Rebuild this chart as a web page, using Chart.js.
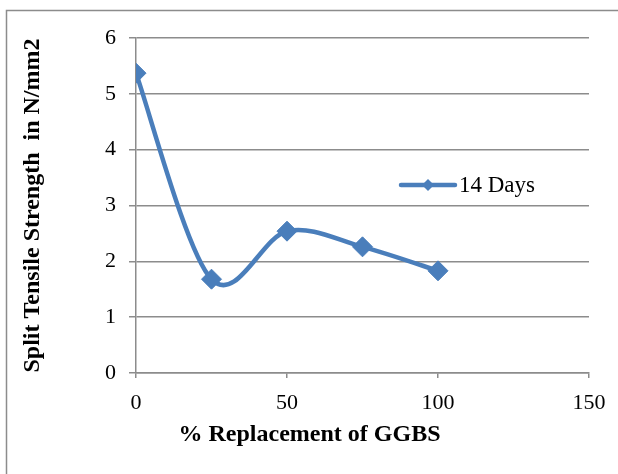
<!DOCTYPE html>
<html>
<head>
<meta charset="utf-8">
<script src="https://cdn.jsdelivr.net/npm/chart.js@4/dist/chart.umd.min.js"></script>
<style>
  html, body { margin: 0; padding: 0; background: #fff; }
  #wrap { width: 618px; height: 474px; position: relative; }
</style>
</head>
<body>
<div id="wrap"><canvas id="grafico" width="618" height="474"></canvas></div>
<script>
// Split tensile strength vs % GGBS replacement (14 days)
const replacement = [0, 25, 50, 75, 100];
const strength14  = [5.37, 1.68, 2.54, 2.26, 1.83];
const xTicks      = [0, 50, 100, 150];
const yTicks      = [0, 1, 2, 3, 4, 5, 6];

const LINE_COLOR = '#4A7EBB';
const GRID_COLOR = '#8c8c8c';
const TEXT_COLOR = '#000';
const SERIF      = '"Liberation Serif", "Times New Roman", serif';

// outer frame (only left and top edges visible in the reference)
const framePlugin = {
    id: 'frame',
    beforeDraw(chart) {
        const c = chart.ctx;
        c.save();
        c.strokeStyle = GRID_COLOR;
        c.lineWidth = 1.5;
        c.beginPath();
        c.moveTo(6.5, chart.height);
        c.lineTo(6.5, 10.5);
        c.lineTo(chart.width, 10.5);
        c.stroke();
        c.restore();
    }
};

// Excel-style smoothing: Catmull-Rom control points (neighbour difference / 6)
const excelSmooth = {
    id: 'excelSmooth',
    beforeDatasetDraw(chart, args) {
        const meta = args.meta;
        const line = meta.dataset;
        if (!line) return;
        line.updateControlPoints(chart.chartArea, 'x');
        const pts = meta.data;
        for (let i = 0; i < pts.length; i++) {
            const p = pts[i];
            const prev = pts[i - 1] || p;
            const next = pts[i + 1] || p;
            const dx = (next.x - prev.x) / 6;
            const dy = (next.y - prev.y) / 6;
            p.cp1x = p.x - dx; p.cp1y = p.y - dy;
            p.cp2x = p.x + dx; p.cp2y = p.y + dy;
        }
        line._pointsUpdated = true;
        line._path = undefined;
    }
};

// legend with line + diamond, inside the plot area
const legendPlugin = {
    id: 'lineLegend',
    afterDraw(chart) {
        const ds = chart.data.datasets[0];
        const c = chart.ctx;
        const x0 = 401, x1 = 455, y = 185;
        const xm = (x0 + x1) / 2;
        c.save();
        c.strokeStyle = ds.borderColor;
        c.lineWidth = ds.borderWidth;
        c.lineCap = 'round';
        c.beginPath();
        c.moveTo(x0, y);
        c.lineTo(x1, y);
        c.stroke();
        c.fillStyle = ds.pointBackgroundColor;
        c.beginPath();
        c.moveTo(xm, y - 6);
        c.lineTo(xm + 6, y);
        c.lineTo(xm, y + 6);
        c.lineTo(xm - 6, y);
        c.closePath();
        c.fill();
        c.fillStyle = TEXT_COLOR;
        c.font = '23px ' + SERIF;
        c.textBaseline = 'middle';
        c.fillText(ds.label, 459, y + 1);
        c.restore();
    }
};

const ctx = document.getElementById('grafico').getContext('2d');

new Chart(ctx, {
    type: 'line',
    data: {
        datasets: [{
            label: '14 Days',
            data: replacement.map((x, i) => ({ x: x, y: strength14[i] })),
            borderColor: LINE_COLOR,
            borderWidth: 4.5,
            tension: 0.4,
            fill: false,
            pointStyle: 'rectRot',
            pointRadius: 10,
            pointHoverRadius: 10,
            pointBackgroundColor: LINE_COLOR,
            pointBorderColor: LINE_COLOR,
            pointBorderWidth: 1
        }]
    },
    options: {
        responsive: false,
        animation: false,
        events: [],
        layout: { padding: { left: 30, top: 38, right: 29, bottom: 0 } },
        plugins: {
            legend: { display: false },
            tooltip: { enabled: false },
            // x axis title, centred on the whole picture as in the reference
            title: {
                display: true,
                position: 'bottom',
                text: '% Replacement of GGBS',
                color: TEXT_COLOR,
                font: { size: 24, weight: 'bold', family: SERIF },
                padding: { top: 0, bottom: 25 }
            }
        },
        scales: {
            x: {
                type: 'linear',
                min: 0,
                max: 150,
                afterBuildTicks(scale) { scale.ticks = xTicks.map(v => ({ value: v })); },
                afterFit(scale) { scale.height = 474 - 373 - (24 * 1.2 + 25); },
                ticks: {
                    color: TEXT_COLOR,
                    font: { size: 22, family: SERIF },
                    padding: 12,
                    maxRotation: 0
                },
                grid: {
                    drawOnChartArea: false,
                    color: GRID_COLOR,
                    lineWidth: 1.5,
                    tickLength: 5
                },
                border: { color: GRID_COLOR, width: 1.5 }
            },
            y: {
                type: 'linear',
                min: 0,
                max: 6,
                afterBuildTicks(scale) { scale.ticks = yTicks.map(v => ({ value: v })); },
                afterFit(scale) { scale.width = 136 - 30; },
                ticks: {
                    color: TEXT_COLOR,
                    font: { size: 22, family: SERIF },
                    padding: 13
                },
                grid: {
                    color: GRID_COLOR,
                    lineWidth: 1.5,
                    tickLength: 7
                },
                border: { color: GRID_COLOR, width: 1.5 },
                title: {
                    display: true,
                    text: 'Split Tensile Strength  in N/mm2',
                    color: TEXT_COLOR,
                    font: { size: 24, weight: 'bold', family: SERIF },
                    padding: { top: -11.5, bottom: 0 }
                }
            }
        }
    },
    plugins: [framePlugin, excelSmooth, legendPlugin]
});
</script>
</body>
</html>
